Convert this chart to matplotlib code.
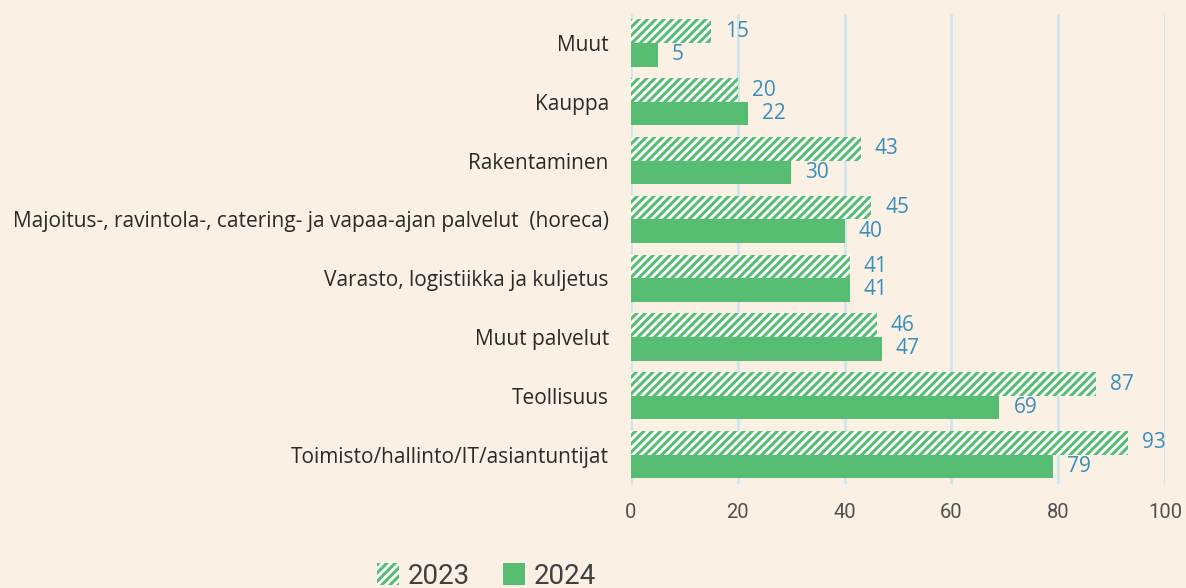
import matplotlib
matplotlib.use("Agg")
import matplotlib.pyplot as plt
import matplotlib.patches as mpatches
import numpy as np

categories = ["Muut", "Kauppa", "Rakentaminen",
              "Majoitus-, ravintola-, catering- ja vapaa-ajan palvelut  (horeca)",
              "Varasto, logistiikka ja kuljetus", "Muut palvelut", "Teollisuus",
              "Toimisto/hallinto/IT/asiantuntijat"]
values_2023 = [15, 20, 43, 45, 41, 46, 87, 93]
values_2024 = [5, 22, 30, 40, 41, 47, 69, 79]
x_ticks = [0, 20, 40, 60, 80, 100]
series_names = ["2023", "2024"]

BG = "#FAF0E4"
GREEN = "#57BD73"
LABEL = "#3A8EBE"
GRID = "#CFE6EC"

plt.rcParams["hatch.linewidth"] = 2.2
plt.rcParams["font.family"] = ["Open Sans", "DejaVu Sans"]

fig = plt.figure(figsize=(11.86, 5.88), dpi=100, facecolor=BG)
ax = fig.add_axes([631/1186, (588-484)/588, (1165-631)/1186, (484-13.6)/588])
ax.set_facecolor(BG)

y = np.arange(len(categories))
h = 0.4
b1 = ax.barh(y - h/2, values_2023, height=h, facecolor="white", edgecolor=GREEN,
             hatch="////", linewidth=0, zorder=3)
b2 = ax.barh(y + h/2, values_2024, height=h, color=GREEN, linewidth=0, zorder=3)

for bars, vals in ((b1, values_2023), (b2, values_2024)):
    for rect, v in zip(bars, vals):
        ax.annotate(str(v), (v, rect.get_y() + rect.get_height()/2),
                    xytext=(14, 0), textcoords="offset pixels",
                    ha="left", va="center", color=LABEL, fontsize=15)

ax.set_xlim(0, 100)
ax.set_ylim(len(categories) - 0.5, -0.5)
ax.set_xticks(x_ticks)
ax.set_xticklabels([str(t) for t in x_ticks], fontsize=14.5, color="#505050",
                   family=["Roboto", "DejaVu Sans"])
ax.set_yticks(y)
ax.set_yticklabels(categories, fontsize=15, color="#2a2a2a")
ax.tick_params(axis="y", length=0, pad=16)
ax.tick_params(axis="x", length=0, pad=14)
for s in ax.spines.values():
    s.set_visible(False)
ax.grid(axis="x", color=GRID, linewidth=2, zorder=0)
ax.set_axisbelow(True)

handles = [mpatches.Patch(facecolor="white", edgecolor=GREEN, hatch="////", linewidth=0),
           mpatches.Patch(facecolor=GREEN, linewidth=0)]
fig.legend(handles, series_names, loc="center", bbox_to_anchor=(0.41, 0.02),
           ncol=2, frameon=False,
           prop={"family": ["Roboto", "DejaVu Sans"], "size": 20},
           labelcolor="#404040", handlelength=0.8, handleheight=0.8,
           handletextpad=0.3, columnspacing=1.2, borderpad=0)

fig.savefig("out.png", dpi=100, facecolor=BG)
